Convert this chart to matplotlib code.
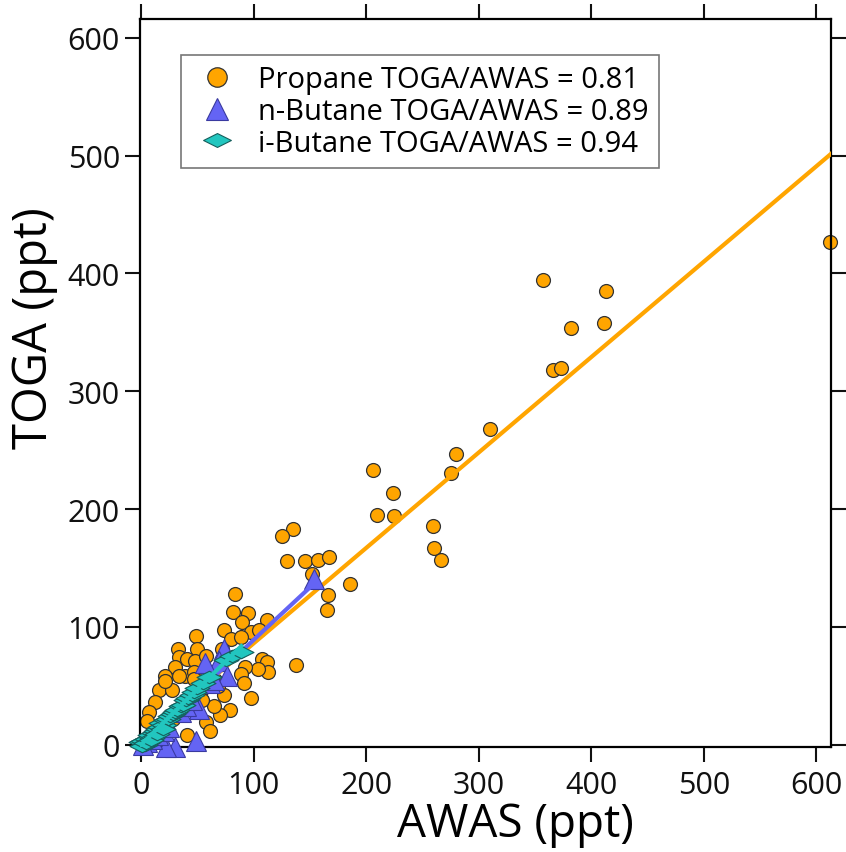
import numpy as np
import matplotlib
matplotlib.use("Agg")
import matplotlib.pyplot as plt
from matplotlib.path import Path

plt.rcParams["font.family"] = ["Open Sans", "DejaVu Sans"]

# --- Datos (ppt) ---
propano_awas = [357, 413, 382, 411, 366, 373, 310, 280, 275, 206, 224, 210, 225, 259, 260, 266,
                186, 135, 125, 130, 146, 157, 167, 152, 166, 165, 138, 612,
                83, 82, 95, 90, 112, 98, 105, 74, 80, 89, 49, 50, 33, 34, 41, 48, 58, 72,
                30, 21, 39, 47, 107, 112, 113, 104, 92, 89, 91, 98, 74, 79, 70, 58, 61, 65,
                16, 12, 7, 5, 27, 21, 47, 34, 41, 10, 15, 20, 25, 30, 36, 42, 45, 52, 55, 62,
                66, 3, 8, 18, 28, 38, 54, 68]
propano_toga = [394, 385, 354, 358, 318, 320, 268, 247, 231, 233, 214, 195, 194, 186, 167, 157,
                136, 183, 177, 156, 156, 157, 159, 145, 127, 114, 68, 427,
                128, 113, 112, 104, 106, 96, 97, 97, 90, 91, 92, 81, 81, 74, 73, 71, 75, 81,
                66, 58, 58, 62, 73, 70, 62, 64, 66, 60, 52, 40, 42, 29, 25, 19, 12, 33,
                46, 36, 28, 20, 46, 54, 56, 58, 8, 10, 14, 18, 24, 28, 32, 36, 40, 44, 48, 52,
                55, 4, 6, 16, 22, 30, 38, 50]

nbutano_awas = [154, 74, 69, 76, 49, 51, 30, 22, 61, 57, 5, 10, 15, 20, 25, 35, 40, 45, 65, 2]
nbutano_toga = [141, 81, 71, 58, 3, 30, -2, -2, 52, 69, 2, 5, 8, 12, 15, 28, 33, 38, 55, 0]

ibutano_awas = [0, 2, 3, 5, 6, 8, 10, 11, 13, 15, 17, 18, 20, 22, 24, 26, 28, 30, 32, 35,
                37, 40, 42, 45, 47, 50, 55, 60, 75, 81, 89, 1, 4, 9, 14, 19]
ibutano_toga = [2, 3, 0, 5, 2, 8, 6, 10, 12, 13, 15, 18, 17, 21, 22, 24, 26, 28, 29, 33,
                34, 38, 40, 42, 45, 48, 52, 57, 72, 75, 79, -1, 1, 4, 9, 13]

# pendientes e interceptos de los ajustes
pend_propano, int_propano, max_propano = 0.81, 5.0, 613
pend_nbutano, max_nbutano = 0.89, 154
pend_ibutano, max_ibutano = 0.94, 89

naranja = "#FFA500"
azul = "#6464F4"
cian = "#22C6BF"

# rombo aplanado para i-butano
rombo = Path([(-1, 0), (0, 0.5), (1, 0), (0, -0.5), (-1, 0)],
             [Path.MOVETO, Path.LINETO, Path.LINETO, Path.LINETO, Path.CLOSEPOLY])

fig = plt.figure(figsize=(8.46, 8.53), dpi=100)
ax = fig.add_axes([0.1655, 0.1231, 0.8168, 0.8535])

ax.plot(propano_awas, propano_toga, "o", ms=10, mfc=naranja, mec="#333333", mew=0.9,
        label="Propane TOGA/AWAS = 0.81", zorder=2, clip_on=False)
x = np.array([0, max_propano])
ax.plot(x, pend_propano * x + int_propano, color=naranja, lw=3, zorder=3)

ax.plot(nbutano_awas, nbutano_toga, "^", ms=15, mfc=azul, mec="#3a3aa0", mew=0.8,
        label="n-Butane TOGA/AWAS = 0.89", zorder=4, clip_on=False)
x = np.array([0, max_nbutano])
ax.plot(x, pend_nbutano * x, color=azul, lw=3, zorder=4)

ax.plot(ibutano_awas, ibutano_toga, marker=rombo, ls="none", ms=18, mfc=cian, mec="#155f5c",
        mew=0.8, label="i-Butane TOGA/AWAS = 0.94", zorder=5, clip_on=False)
x = np.array([0, max_ibutano])
ax.plot(x, pend_ibutano * x, color=cian, lw=3, zorder=5)

ax.set_xlim(-1, 613)
ax.set_ylim(-2, 616)
ax.set_xticks(np.arange(0, 601, 100))
ax.set_yticks(np.arange(0, 601, 100))

for s in ax.spines.values():
    s.set_linewidth(1.6)
ax.tick_params(direction="out", length=10.5, width=1.5, labelsize=22, colors="#111111",
               top=True, right=True, labeltop=False, labelright=False)
ax.tick_params(axis="x", pad=6)
ax.tick_params(axis="y", pad=4)

ax.set_xlabel("AWAS (ppt)", fontsize=33)
ax.set_ylabel("TOGA (ppt)", fontsize=34)
ax.xaxis.set_label_coords(0.543, -0.074)
ax.yaxis.set_label_coords(-0.118, 0.577)

leg = ax.legend(loc="upper left", bbox_to_anchor=(0.059, 0.951), borderaxespad=0,
                fontsize=21, frameon=True, fancybox=False, shadow=False,
                handletextpad=0.5, borderpad=0.35, labelspacing=0.1, handlelength=1.8)
leg.get_frame().set_edgecolor("#555555")
leg.get_frame().set_linewidth(1.2)
for h, m in zip(leg.legend_handles, [14, 16, 20]):
    h.set_markersize(m)

plt.savefig("out.png", dpi=100)
